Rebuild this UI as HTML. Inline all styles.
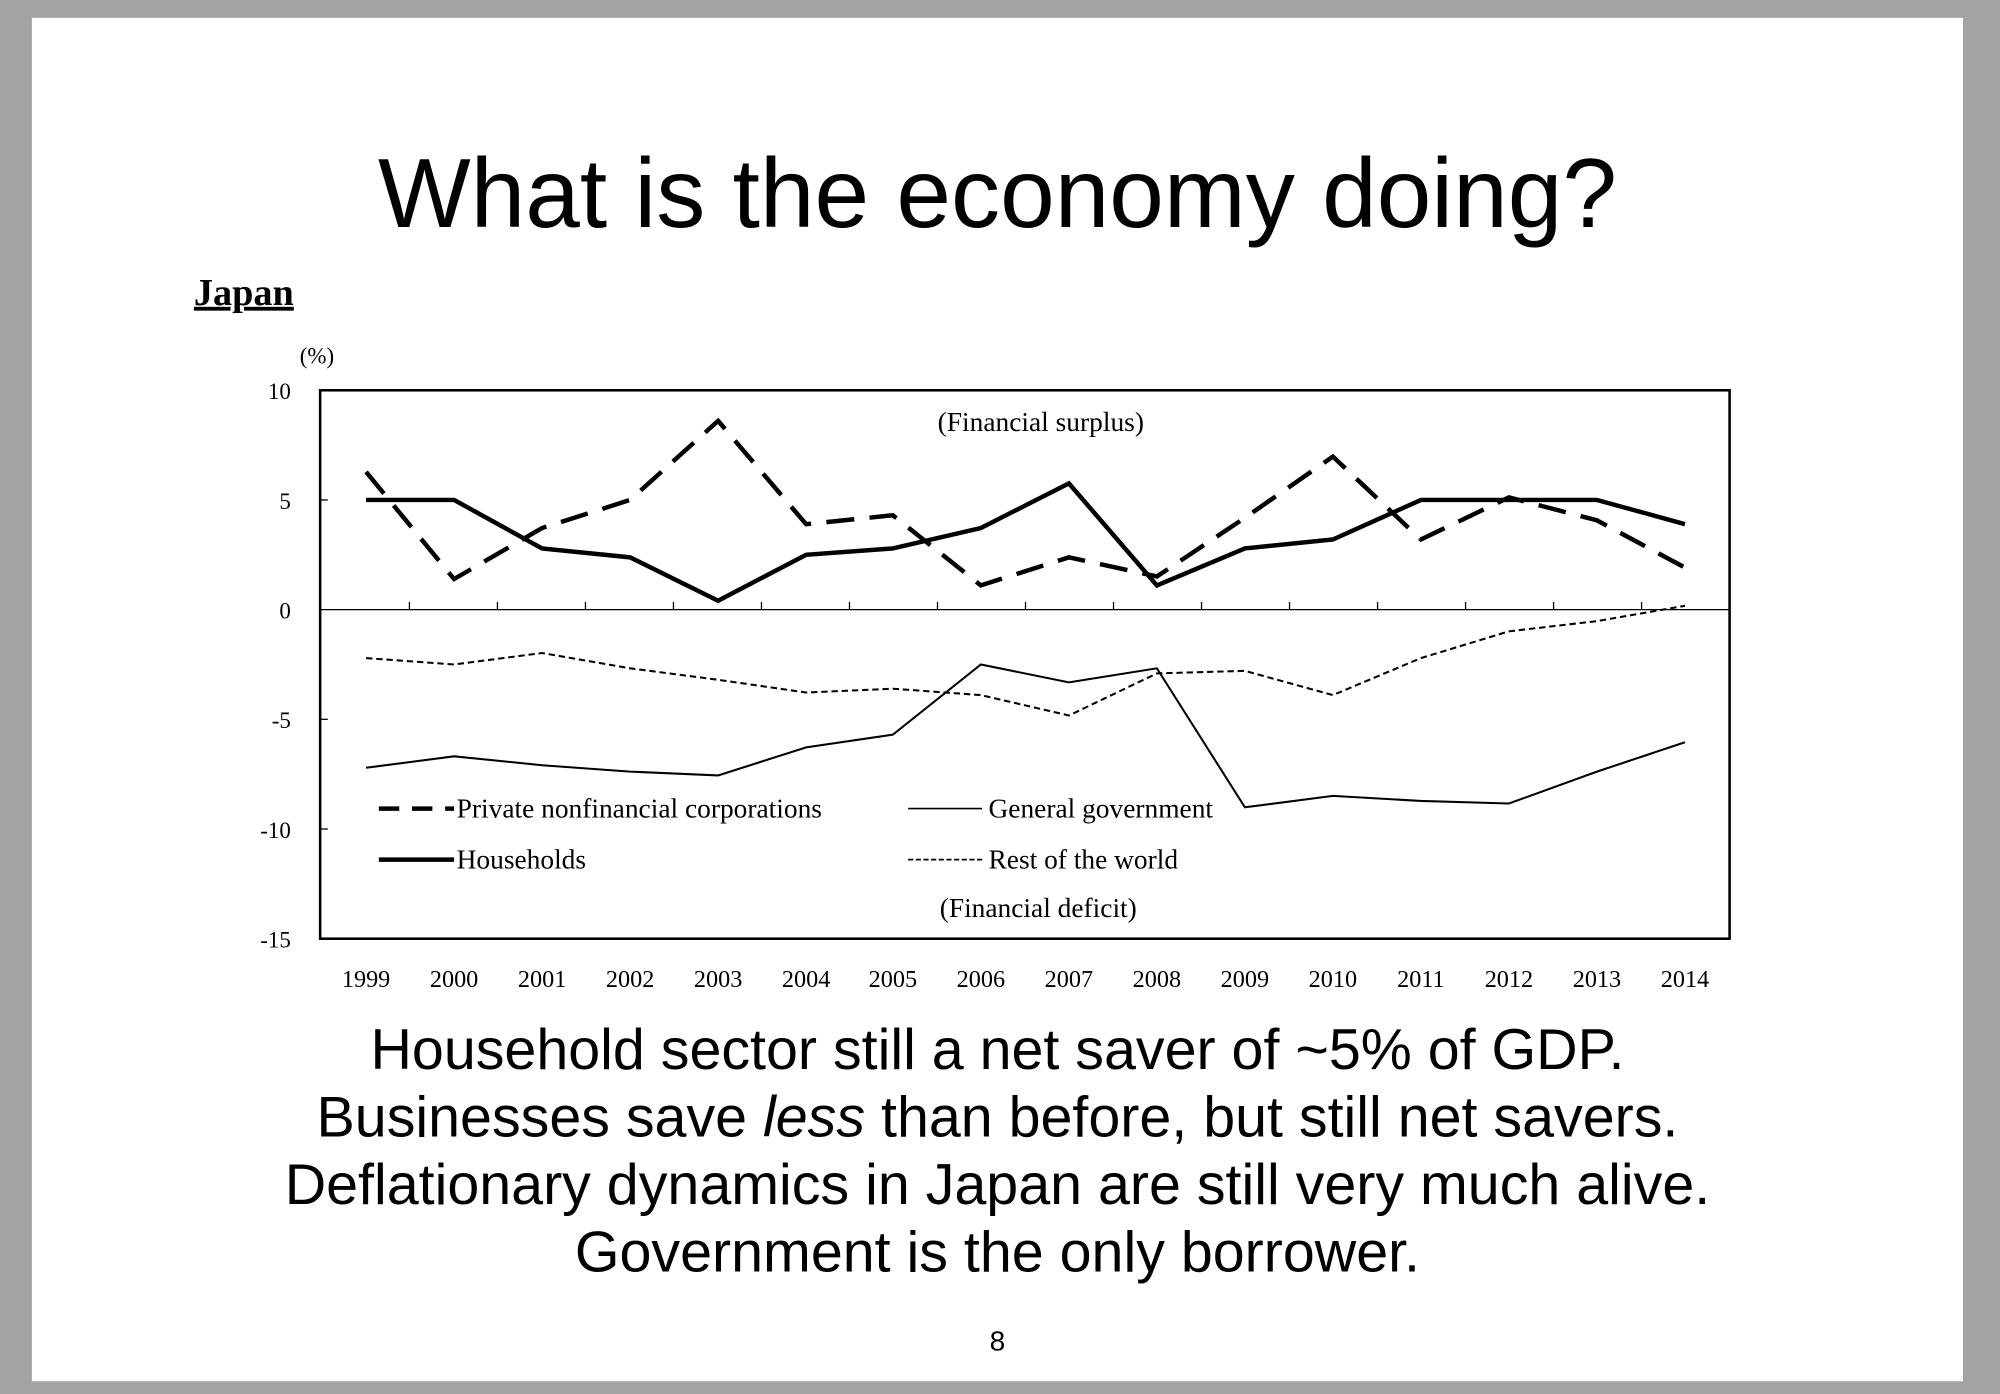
<!DOCTYPE html>
<html><head><meta charset="utf-8"><style>
html,body{margin:0;padding:0;background:#a0a0a0;}
svg{display:block;}
</style></head><body>
<svg width="2000" height="1394" viewBox="0 0 1568 1093" preserveAspectRatio="none" xmlns="http://www.w3.org/2000/svg">
<rect x="0" y="0" width="1568" height="1093" fill="#a3a3a3"/>
<rect x="25" y="14" width="1514" height="1069" fill="#fff"/>
<text x="782" y="178" font-family="Liberation Sans, sans-serif" font-size="77" text-anchor="middle" fill="#000">What is the economy doing?</text>
<text x="152" y="239" font-family="Liberation Serif, serif" font-size="30" font-weight="bold" fill="#000" text-decoration="underline">Japan</text>
<text x="235" y="285" font-family="Liberation Serif, serif" font-size="18">(%)</text>
<g font-family="Liberation Serif, serif" font-size="18" text-anchor="end">
<text x="228" y="313">10</text><text x="228" y="399">5</text><text x="228" y="485">0</text>
<text x="228" y="571">-5</text><text x="228" y="657">-10</text><text x="228" y="743">-15</text>
</g>
<rect x="251" y="306" width="1105" height="430" fill="none" stroke="#000" stroke-width="2"/>
<g stroke="#000" stroke-width="1">
<line x1="251" y1="392" x2="257" y2="392"/><line x1="251" y1="564" x2="257" y2="564"/><line x1="251" y1="650" x2="257" y2="650"/>
<line x1="251" y1="478" x2="1356" y2="478"/>
</g>
<g stroke="#000" stroke-width="1">
<line x1="321" y1="478" x2="321" y2="472"/><line x1="390" y1="478" x2="390" y2="472"/><line x1="459" y1="478" x2="459" y2="472"/><line x1="528" y1="478" x2="528" y2="472"/><line x1="597" y1="478" x2="597" y2="472"/><line x1="666" y1="478" x2="666" y2="472"/><line x1="735" y1="478" x2="735" y2="472"/><line x1="804" y1="478" x2="804" y2="472"/><line x1="873" y1="478" x2="873" y2="472"/><line x1="942" y1="478" x2="942" y2="472"/><line x1="1011" y1="478" x2="1011" y2="472"/><line x1="1080" y1="478" x2="1080" y2="472"/><line x1="1149" y1="478" x2="1149" y2="472"/><line x1="1218" y1="478" x2="1218" y2="472"/><line x1="1287" y1="478" x2="1287" y2="472"/>
</g>
<g font-family="Liberation Serif, serif" font-size="19" text-anchor="middle">
<text x="287" y="774">1999</text><text x="356" y="774">2000</text><text x="425" y="774">2001</text><text x="494" y="774">2002</text><text x="563" y="774">2003</text><text x="632" y="774">2004</text><text x="700" y="774">2005</text><text x="769" y="774">2006</text><text x="838" y="774">2007</text><text x="907" y="774">2008</text><text x="976" y="774">2009</text><text x="1045" y="774">2010</text><text x="1114" y="774">2011</text><text x="1183" y="774">2012</text><text x="1252" y="774">2013</text><text x="1321" y="774">2014</text>
</g>
<g font-family="Liberation Serif, serif" font-size="21.5" text-anchor="middle">
<text x="816" y="338">(Financial surplus)</text>
<text x="814" y="719">(Financial deficit)</text>
</g>
<polyline fill="none" stroke="#000" stroke-width="3.5" stroke-dasharray="22,12" points="287,370 356,454 425,414 494,392 563,330 632,411 700,404 769,459 838,437 907,452 976,406 1045,358 1114,423 1183,390 1252,408 1321,445"/>
<polyline fill="none" stroke="#000" stroke-width="3.5" points="287,392 356,392 425,430 494,437 563,471 632,435 700,430 769,414 838,379 907,459 976,430 1045,423 1114,392 1183,392 1252,392 1321,411"/>
<polyline fill="none" stroke="#000" stroke-width="1.6" points="287,602 356,593 425,600 494,605 563,608 632,586 700,576 769,521 838,535 907,524 976,633 1045,624 1114,628 1183,630 1252,605 1321,582"/>
<polyline fill="none" stroke="#000" stroke-width="1.6" stroke-dasharray="5,3" points="287,516 356,521 425,512 494,524 563,533 632,543 700,540 769,545 838,561 907,528 976,526 1045,545 1114,516 1183,495 1252,487 1321,475"/>
<g font-family="Liberation Serif, serif" font-size="21.5">
<line x1="297" y1="634" x2="356" y2="634" stroke="#000" stroke-width="3.5" stroke-dasharray="16,10"/>
<text x="358" y="641">Private nonfinancial corporations</text>
<line x1="297" y1="674" x2="356" y2="674" stroke="#000" stroke-width="3.5"/>
<text x="358" y="681">Households</text>
<line x1="712" y1="634" x2="770" y2="634" stroke="#000" stroke-width="1.3"/>
<text x="775" y="641">General government</text>
<line x1="712" y1="674" x2="770" y2="674" stroke="#000" stroke-width="1.3" stroke-dasharray="4,2"/>
<text x="775" y="681">Rest of the world</text>
</g>
<g font-family="Liberation Sans, sans-serif" font-size="45" text-anchor="middle" fill="#000">
<text x="782" y="838">Household sector still a net saver of ~5% of GDP.</text>
<text x="782" y="891">Businesses save <tspan font-style="italic">less</tspan> than before, but still net savers.</text>
<text x="782" y="944">Deflationary dynamics in Japan are still very much alive.</text>
<text x="782" y="997">Government is the only borrower.</text>
</g>
<text x="782" y="1059" font-family="Liberation Sans, sans-serif" font-size="22" text-anchor="middle">8</text>
</svg>
</body></html>
